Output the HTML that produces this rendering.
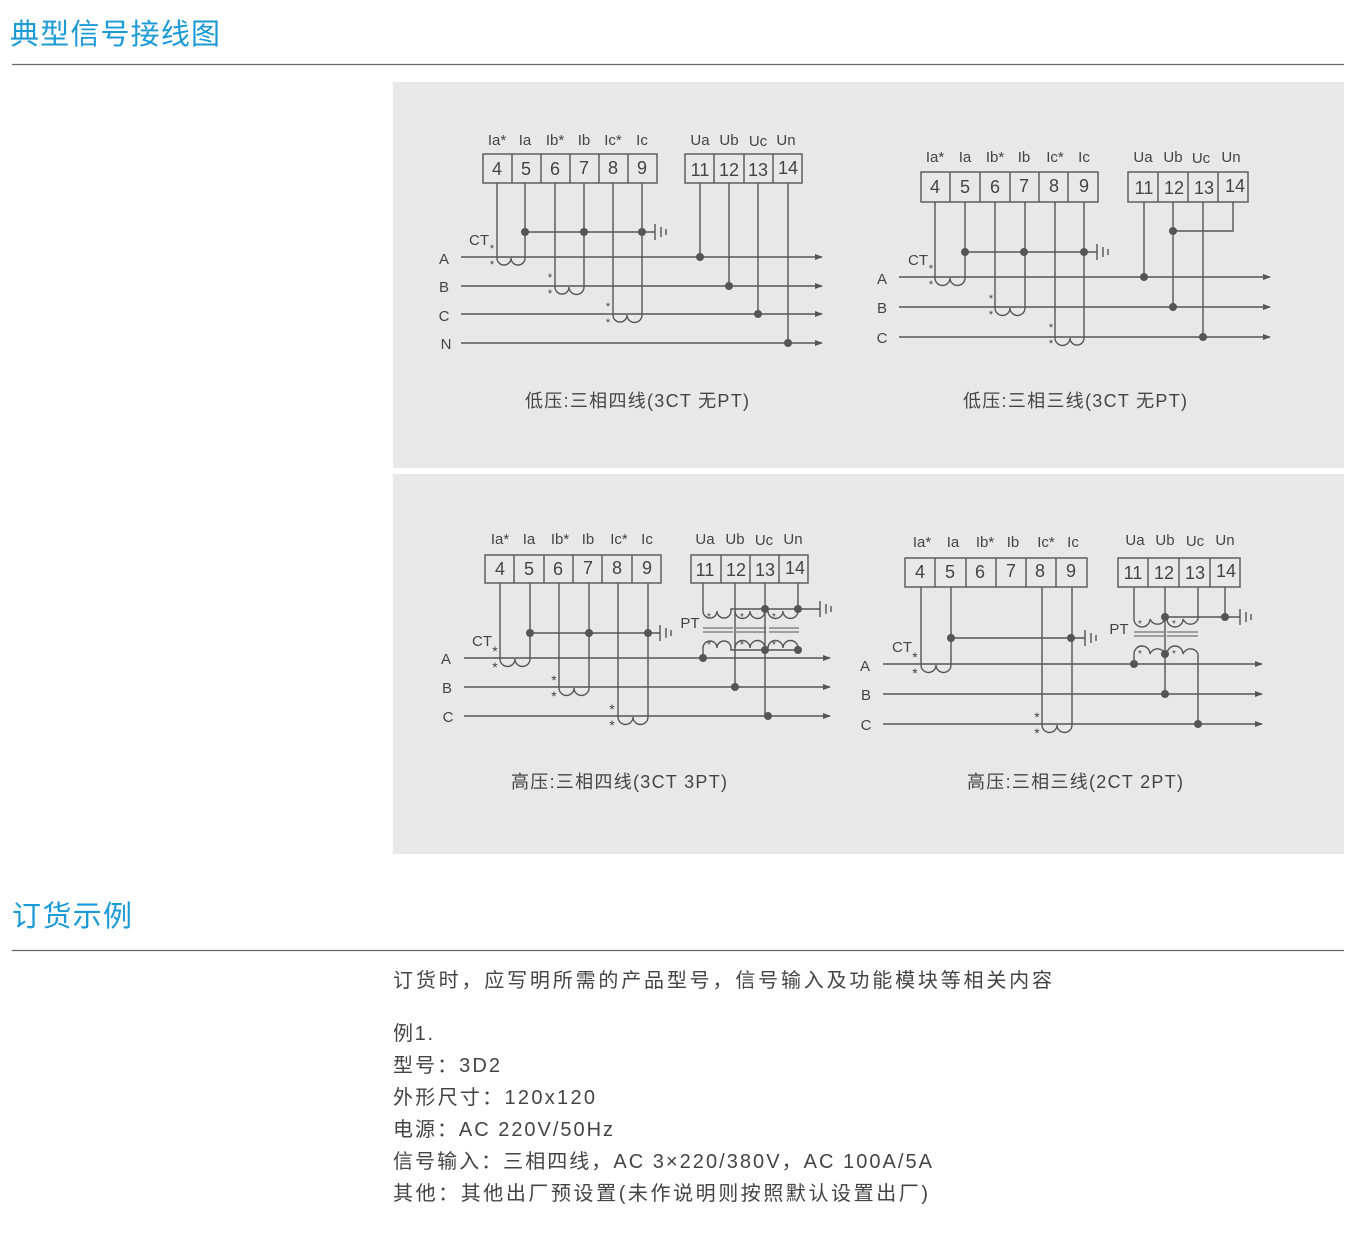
<!DOCTYPE html>
<html><head><meta charset="utf-8"><style>
body{margin:0;background:#fff;width:1350px;height:1240px;overflow:hidden;font-family:"Liberation Sans","Noto Sans CJK SC",sans-serif}
svg{position:absolute;left:0;top:0}
.t{font-family:"Liberation Sans","Noto Sans CJK SC",sans-serif}
</style></head><body>
<svg width="1350" height="1240" viewBox="0 0 1350 1240" xmlns="http://www.w3.org/2000/svg">
<defs>
<marker id="ar" markerWidth="8" markerHeight="8" refX="7" refY="4" orient="auto" markerUnits="userSpaceOnUse"><path d="M0,1 L8,4 L0,7z" fill="#555"/></marker>
</defs>
<text x="10" y="44" font-size="29" fill="#1a9ad6" class="t" textLength="210" lengthAdjust="spacing">典型信号接线图</text>
<line x1="12" y1="64.5" x2="1344" y2="64.5" stroke="#666" stroke-width="1.2"/>
<rect x="393" y="82" width="951" height="386" fill="#e8e8e8"/>
<rect x="393" y="474" width="951" height="380" fill="#e8e8e8"/>

<g stroke="#555" stroke-width="1.4" fill="none">
<!-- Diagram 1 -->
<rect x="483" y="154" width="174" height="29"/>
<path d="M512,154v29M541,154v29M570,154v29M599,154v29M628,154v29"/>
<rect x="685" y="154" width="117" height="29"/>
<path d="M714,154v29M744,154v29M773,154v29"/>
<g marker-end="url(#ar)"><path d="M461,257H822"/><path d="M461,286H822"/><path d="M461,314H822"/><path d="M461,343H822"/></g>
<path d="M497,183V258a7,7 0 0 0 14,0a7,7 0 0 0 14,0V183"/>
<path d="M555,183V287a7,7 0 0 0 14,0a7,7 0 0 0 15,0V183"/>
<path d="M613,183V315a7,7 0 0 0 14,0a7,7 0 0 0 15,0V183"/>
<path d="M525,232H655M655,224v16M661,227v10M666,229v6"/>
<path d="M700,183V257M729,183V286M758,183V314M788,183V343"/>
<!-- Diagram 2 -->
<rect x="921" y="172" width="177" height="30"/>
<path d="M950,172v30M980,172v30M1010,172v30M1039,172v30M1068,172v30"/>
<rect x="1128" y="172" width="120" height="30"/>
<path d="M1158,172v30M1188,172v30M1218,172v30"/>
<g marker-end="url(#ar)"><path d="M899,277H1270"/><path d="M899,307H1270"/><path d="M899,337H1270"/></g>
<path d="M935,202V278a7,7 0 0 0 15,0a7,7 0 0 0 15,0V202"/>
<path d="M995,202V308a7,7 0 0 0 15,0a7,7 0 0 0 15,0V202"/>
<path d="M1055,202V338a7,7 0 0 0 15,0a7,7 0 0 0 14,0V202"/>
<path d="M965,252H1097M1097,244v16M1103,247v10M1108,249v6"/>
<path d="M1144,202V277M1173,202V307M1203,202V337M1233,202V231H1173"/>
<!-- Diagram 3 -->
<rect x="485" y="555" width="176" height="28"/>
<path d="M514,555v28M544,555v28M573,555v28M602,555v28M632,555v28"/>
<rect x="691" y="555" width="117" height="28"/>
<path d="M721,555v28M750,555v28M779,555v28"/>
<g marker-end="url(#ar)"><path d="M464,658H830"/><path d="M464,687H830"/><path d="M464,716H830"/></g>
<path d="M500,583V659a7,7 0 0 0 15,0a7,7 0 0 0 15,0V583"/>
<path d="M559,583V688a7,7 0 0 0 15,0a7,7 0 0 0 15,0V583"/>
<path d="M618,583V717a7,7 0 0 0 15,0a7,7 0 0 0 15,0V583"/>
<path d="M530,633H660M660,625v16M666,628v10M671,630v6"/>
<path d="M703,583V611a7,7 0 0 0 14,0a7,7 0 0 0 14,0V609H820M820,601v16M826,604v10M831,606v6"/>
<path d="M735,611a7,7 0 0 0 15,0a7,7 0 0 0 15,0V583M768,611a7,7 0 0 0 15,0a7,7 0 0 0 15,0V583"/>
<path d="M735,583V611"/>
<path d="M703,628H733M703,632H733M736,628H766M736,632H766M769,628H799M769,632H799" stroke-width="1.1"/>
<path d="M703,658V648a7,7 0 0 1 14,0a7,7 0 0 1 14,0V650H798"/>
<path d="M735,648a7,7 0 0 1 15,0a7,7 0 0 1 15,0M768,648a7,7 0 0 1 15,0a7,7 0 0 1 15,0V650"/>
<path d="M735,611V687M765,611V716"/>
<!-- Diagram 4 -->
<rect x="905" y="558" width="182" height="29"/>
<path d="M935,558v29M966,558v29M996,558v29M1026,558v29M1056,558v29"/>
<rect x="1118" y="558" width="122" height="29"/>
<path d="M1148,558v29M1179,558v29M1210,558v29"/>
<g marker-end="url(#ar)"><path d="M883,664H1262"/><path d="M883,694H1262"/><path d="M883,724H1262"/></g>
<path d="M921,587V665a7,7 0 0 0 15,0a7,7 0 0 0 15,0V587"/>
<path d="M1042,587V725a7,7 0 0 0 15,0a7,7 0 0 0 15,0V587"/>
<path d="M951,638H1085M1085,630v16M1091,633v10M1096,635v6"/>
<path d="M1134,587V619a8,8 0 0 0 16,0a8,8 0 0 0 15,0V587M1165,617H1240M1240,609v16M1246,612v10M1251,614v6M1225,587V617"/>
<path d="M1167,619a8,8 0 0 0 16,0a8,8 0 0 0 15,0V587"/>
<path d="M1134,632H1164M1134,636H1164M1167,632H1198M1167,636H1198" stroke-width="1.1"/>
<path d="M1134,664V654a8,8 0 0 1 16,0a8,8 0 0 1 15,0M1167,654a8,8 0 0 1 16,0a8,8 0 0 1 15,0V724"/>
<path d="M1165,617V694"/>
</g>
<g fill="#555">
<circle cx="525" cy="232" r="4"/><circle cx="584" cy="232" r="4"/><circle cx="642" cy="232" r="4"/>
<circle cx="700" cy="257" r="4"/><circle cx="729" cy="286" r="4"/><circle cx="758" cy="314" r="4"/><circle cx="788" cy="343" r="4"/>
<circle cx="965" cy="252" r="4"/><circle cx="1024" cy="252" r="4"/><circle cx="1084" cy="252" r="4"/>
<circle cx="1173" cy="231" r="4"/><circle cx="1144" cy="277" r="4"/><circle cx="1173" cy="307" r="4"/><circle cx="1203" cy="337" r="4"/>
<circle cx="530" cy="633" r="4"/><circle cx="589" cy="633" r="4"/><circle cx="648" cy="633" r="4"/>
<circle cx="765" cy="609" r="4"/><circle cx="798" cy="609" r="4"/><circle cx="765" cy="650" r="4"/><circle cx="798" cy="650" r="4"/>
<circle cx="703" cy="658" r="4"/><circle cx="735" cy="687" r="4"/><circle cx="768" cy="716" r="4"/>
<circle cx="951" cy="638" r="4"/><circle cx="1071" cy="638" r="4"/>
<circle cx="1165" cy="617" r="4"/><circle cx="1225" cy="617" r="4"/><circle cx="1165" cy="654" r="4"/>
<circle cx="1134" cy="664" r="4"/><circle cx="1165" cy="694" r="4"/><circle cx="1198" cy="724" r="4"/>
</g>
<g fill="#444" font-size="15" class="t" text-anchor="middle">
<text x="497" y="145">Ia*</text><text x="525" y="145">Ia</text><text x="555" y="145">Ib*</text><text x="584" y="145">Ib</text><text x="613" y="145">Ic*</text><text x="642" y="145">Ic</text>
<text x="700" y="145">Ua</text><text x="729" y="145">Ub</text><text x="758" y="146">Uc</text><text x="786" y="145">Un</text>
<g font-size="18"><text x="497" y="175">4</text><text x="526" y="175">5</text><text x="555" y="175">6</text><text x="584" y="174">7</text><text x="613" y="174">8</text><text x="642" y="174">9</text>
<text x="700" y="176">11</text><text x="729" y="176">12</text><text x="758" y="176">13</text><text x="788" y="174">14</text></g>
<text x="444" y="264">A</text><text x="444" y="292">B</text><text x="444" y="321">C</text><text x="446" y="349">N</text>
<text x="479" y="245">CT</text>
<g font-size="11"><text x="492" y="252">*</text><text x="492" y="268">*</text><text x="550" y="281">*</text><text x="550" y="297">*</text><text x="608" y="310">*</text><text x="608" y="326">*</text></g>
<text x="935" y="162">Ia*</text><text x="965" y="162">Ia</text><text x="995" y="162">Ib*</text><text x="1024" y="162">Ib</text><text x="1055" y="162">Ic*</text><text x="1084" y="162">Ic</text>
<text x="1143" y="162">Ua</text><text x="1173" y="162">Ub</text><text x="1201" y="163">Uc</text><text x="1231" y="162">Un</text>
<g font-size="18"><text x="935" y="193">4</text><text x="965" y="193">5</text><text x="995" y="193">6</text><text x="1024" y="192">7</text><text x="1054" y="192">8</text><text x="1084" y="192">9</text>
<text x="1144" y="194">11</text><text x="1174" y="194">12</text><text x="1204" y="194">13</text><text x="1235" y="192">14</text></g>
<text x="882" y="284">A</text><text x="882" y="313">B</text><text x="882" y="343">C</text>
<text x="918" y="265">CT</text>
<g font-size="11"><text x="931" y="272">*</text><text x="931" y="288">*</text><text x="991" y="302">*</text><text x="991" y="318">*</text><text x="1051" y="331">*</text><text x="1051" y="347">*</text></g>
<text x="500" y="544">Ia*</text><text x="529" y="544">Ia</text><text x="560" y="544">Ib*</text><text x="588" y="544">Ib</text><text x="619" y="544">Ic*</text><text x="647" y="544">Ic</text>
<text x="705" y="544">Ua</text><text x="735" y="544">Ub</text><text x="764" y="545">Uc</text><text x="793" y="544">Un</text>
<g font-size="18"><text x="500" y="575">4</text><text x="529" y="575">5</text><text x="558" y="575">6</text><text x="588" y="574">7</text><text x="617" y="574">8</text><text x="647" y="574">9</text>
<text x="705" y="576">11</text><text x="736" y="576">12</text><text x="765" y="576">13</text><text x="795" y="574">14</text></g>
<text x="446" y="664">A</text><text x="447" y="693">B</text><text x="448" y="722">C</text>
<text x="482" y="646">CT</text><text x="690" y="628">PT</text>
<g font-size="14"><text x="495" y="656">*</text><text x="495" y="672">*</text><text x="554" y="685">*</text><text x="554" y="701">*</text><text x="612" y="714">*</text><text x="612" y="730">*</text></g>
<g font-size="10"><text x="709" y="620">*</text><text x="742" y="620">*</text><text x="774" y="620">*</text><text x="709" y="648">*</text><text x="742" y="648">*</text><text x="774" y="648">*</text></g>
<text x="922" y="547">Ia*</text><text x="953" y="547">Ia</text><text x="985" y="547">Ib*</text><text x="1013" y="547">Ib</text><text x="1046" y="547">Ic*</text><text x="1073" y="547">Ic</text>
<text x="1135" y="545">Ua</text><text x="1165" y="545">Ub</text><text x="1195" y="546">Uc</text><text x="1225" y="545">Un</text>
<g font-size="18"><text x="920" y="578">4</text><text x="950" y="578">5</text><text x="980" y="578">6</text><text x="1011" y="577">7</text><text x="1040" y="577">8</text><text x="1071" y="577">9</text>
<text x="1133" y="579">11</text><text x="1164" y="579">12</text><text x="1195" y="579">13</text><text x="1226" y="577">14</text></g>
<text x="865" y="671">A</text><text x="866" y="700">B</text><text x="866" y="730">C</text>
<text x="902" y="652">CT</text><text x="1119" y="634">PT</text>
<g font-size="14"><text x="915" y="662">*</text><text x="915" y="678">*</text><text x="1037" y="722">*</text><text x="1037" y="738">*</text></g>
<g font-size="10"><text x="1140" y="627">*</text><text x="1174" y="627">*</text><text x="1140" y="657">*</text><text x="1174" y="657">*</text></g>
</g>
<g font-size="18" fill="#444" class="t">
<text x="525" y="407" textLength="224" lengthAdjust="spacing">低压:三相四线(3CT 无PT)</text>
<text x="963" y="407" textLength="224" lengthAdjust="spacing">低压:三相三线(3CT 无PT)</text>
<text x="511" y="788" textLength="216" lengthAdjust="spacing">高压:三相四线(3CT 3PT)</text>
<text x="967" y="788" textLength="216" lengthAdjust="spacing">高压:三相三线(2CT 2PT)</text>
</g>
<text x="12" y="926" font-size="29" fill="#1a9ad6" class="t" textLength="120" lengthAdjust="spacing">订货示例</text>
<line x1="12" y1="950.5" x2="1344" y2="950.5" stroke="#666" stroke-width="1.2"/>
<g font-size="20" fill="#444" class="t" lengthAdjust="spacing">
<text x="393" y="987" textLength="659" lengthAdjust="spacing">订货时，应写明所需的产品型号，信号输入及功能模块等相关内容</text>
<text x="393" y="1040" textLength="40" lengthAdjust="spacing">例1.</text>
<text x="393" y="1072" textLength="107" lengthAdjust="spacing">型号：3D2</text>
<text x="393" y="1104" textLength="202" lengthAdjust="spacing">外形尺寸：120x120</text>
<text x="393" y="1136" textLength="220" lengthAdjust="spacing">电源：AC 220V/50Hz</text>
<text x="393" y="1168" textLength="539" lengthAdjust="spacing">信号输入：三相四线，AC 3×220/380V，AC 100A/5A</text>
<text x="393" y="1200" textLength="535" lengthAdjust="spacing">其他：其他出厂预设置(未作说明则按照默认设置出厂)</text>
</g>
</svg>
</body></html>
